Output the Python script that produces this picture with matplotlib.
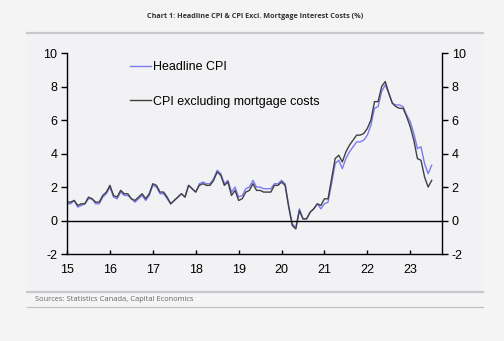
import numpy as np
import matplotlib.pyplot as plt
from matplotlib.patches import Rectangle
from matplotlib.lines import Line2D

plt.rcParams['font.family'] = ['Liberation Sans', 'DejaVu Sans']
plt.rcParams['axes.unicode_minus'] = False

# monthly y/y inflation, Jan 2015 - Jul 2023
headline = [1.0, 1.0, 1.2, 0.8, 0.9, 1.0, 1.3, 1.3, 1.0, 1.0, 1.4, 1.6,
            2.0, 1.4, 1.3, 1.7, 1.5, 1.5, 1.3, 1.1, 1.3, 1.5, 1.2, 1.5,
            2.1, 2.0, 1.6, 1.6, 1.3, 1.0, 1.2, 1.4, 1.6, 1.4, 2.1, 1.9,
            1.7, 2.2, 2.3, 2.2, 2.2, 2.5, 3.0, 2.8, 2.2, 2.4, 1.7, 2.0,
            1.4, 1.5, 1.9, 2.0, 2.4, 2.0, 2.0, 1.9, 1.9, 1.9, 2.2, 2.2,
            2.4, 2.2, 0.9, -0.2, -0.4, 0.7, 0.1, 0.1, 0.5, 0.7, 1.0, 0.7,
            1.0, 1.1, 2.2, 3.4, 3.6, 3.1, 3.7, 4.1, 4.4, 4.7, 4.7, 4.8,
            5.1, 5.7, 6.7, 6.8, 7.7, 8.1, 7.6, 7.0, 6.9, 6.9, 6.8, 6.3,
            5.9, 5.2, 4.3, 4.4, 3.4, 2.8, 3.3]
ex_mortgage = [1.1, 1.1, 1.2, 0.9, 1.0, 1.0, 1.4, 1.3, 1.1, 1.1, 1.5, 1.7,
               2.1, 1.5, 1.4, 1.8, 1.6, 1.6, 1.3, 1.2, 1.4, 1.6, 1.3, 1.6,
               2.2, 2.1, 1.7, 1.7, 1.4, 1.0, 1.2, 1.4, 1.6, 1.4, 2.1, 1.9,
               1.7, 2.1, 2.2, 2.1, 2.1, 2.4, 2.9, 2.7, 2.1, 2.3, 1.5, 1.8,
               1.2, 1.3, 1.7, 1.8, 2.2, 1.8, 1.8, 1.7, 1.7, 1.7, 2.1, 2.1,
               2.3, 2.1, 0.8, -0.3, -0.5, 0.6, 0.1, 0.1, 0.5, 0.7, 1.0, 0.9,
               1.3, 1.3, 2.5, 3.7, 3.9, 3.5, 4.1, 4.5, 4.8, 5.1, 5.1, 5.2,
               5.5, 6.0, 7.1, 7.1, 8.0, 8.3, 7.6, 7.0, 6.8, 6.7, 6.7, 6.2,
               5.6, 4.8, 3.7, 3.6, 2.6, 2.0, 2.4]
start_year = 15
year_ticks = list(range(15, 24))
y_ticks = [-2, 0, 2, 4, 6, 8, 10]

t = start_year + np.arange(len(headline)) / 12.0

fig = plt.figure(figsize=(5.04, 3.41), dpi=100)
fig.patch.set_facecolor('#f4f4f4')
fig.patches.append(Rectangle((0.0536, 0.1437), 0.9044, 0.7593, transform=fig.transFigure,
                             facecolor='#f2f2f4', edgecolor='none', zorder=-5))
fig.add_artist(Line2D([0.0536, 0.958], [0.903, 0.903], color='#c8c8cc', lw=1.6))
fig.add_artist(Line2D([0.0536, 0.958], [0.1437, 0.1437], color='#c8c8cc', lw=1.6))
fig.add_artist(Line2D([0.0536, 0.958], [0.099, 0.099], color='#bdbdc0', lw=0.8))

fig.text(0.506, 0.953, 'Chart 1: Headline CPI & CPI Excl. Mortgage Interest Costs (%)',
         ha='center', va='center', fontsize=5.2, fontweight='bold', color='#333333',
         family=['Open Sans', 'DejaVu Sans'])
fig.text(0.069, 0.121, 'Sources: Statistics Canada, Capital Economics',
         ha='left', va='center', fontsize=5.4, color='#666666',
         family=['Open Sans', 'DejaVu Sans'])

ax = fig.add_axes([0.133, 0.255, 0.744, 0.5894])
ax.set_facecolor('none')
ax.plot(t, headline, color='#7b7bf5', lw=1.0, label='Headline CPI')
ax.plot(t, ex_mortgage, color='#404040', lw=1.0, label='CPI excluding mortgage costs')
ax.axhline(0, color='black', lw=1.0)

ax.set_xlim(15, 23.74)
ax.set_ylim(-2, 10)
ax.set_xticks(year_ticks)
ax.set_yticks(y_ticks)
ax.spines['top'].set_visible(False)
for s in ['left', 'right', 'bottom']:
    ax.spines[s].set_color('black')
    ax.spines[s].set_linewidth(1.0)
ax.tick_params(axis='y', direction='out', length=4, width=1, left=True, right=True,
               labelleft=True, labelright=True, labelsize=9, pad=3, colors='black')
ax.tick_params(axis='x', direction='in', length=3, width=1, labelsize=9, pad=7)

ax.legend(loc='upper left', bbox_to_anchor=(0.168, 0.96), frameon=False, fontsize=9,
          handlelength=1.7, handletextpad=0.15, labelspacing=1.8, borderpad=0,
          borderaxespad=0)

plt.savefig('out.png', dpi=100, facecolor=fig.get_facecolor())
